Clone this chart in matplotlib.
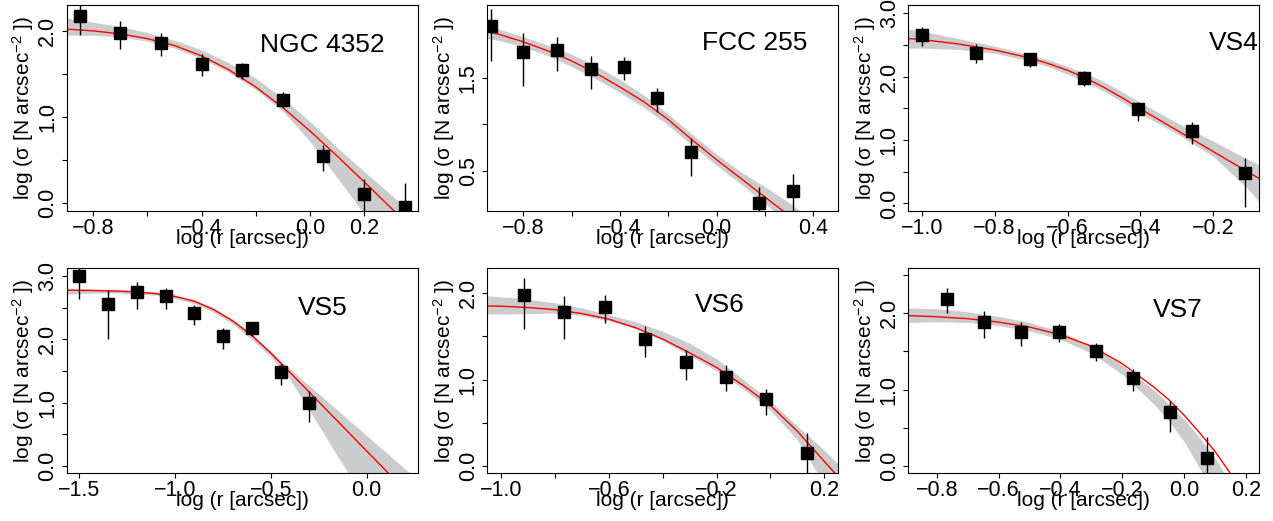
import matplotlib
matplotlib.use("Agg")
import matplotlib.pyplot as plt

plt.rcParams["font.family"] = ["Liberation Sans", "DejaVu Sans"]
plt.rcParams["mathtext.fontset"] = "custom"
plt.rcParams["mathtext.rm"] = "Liberation Sans"
plt.rcParams["mathtext.it"] = "Liberation Sans:italic"

# ---------------- NGC 4352 ----------------
ngc4352_r = [-0.85, -0.70, -0.55, -0.40, -0.25, -0.10, 0.05, 0.20, 0.35]
ngc4352_sig = [2.17, 1.98, 1.86, 1.62, 1.55, 1.20, 0.55, 0.11, -0.04]
ngc4352_elo = [0.22, 0.19, 0.15, 0.14, 0.11, 0.10, 0.18, 0.30, 0.50]
ngc4352_ehi = [0.18, 0.13, 0.11, 0.11, 0.08, 0.09, 0.13, 0.17, 0.28]
ngc4352_fit_r = [-0.898, -0.8, -0.7, -0.6, -0.5, -0.4, -0.3, -0.2, -0.1, 0.0, 0.1, 0.2, 0.3, 0.398]
ngc4352_fit = [2.02, 2.00, 1.965, 1.91, 1.83, 1.71, 1.55, 1.35, 1.11, 0.84, 0.55, 0.25, -0.055, -0.36]
ngc4352_fit_hi = [2.15, 2.10, 2.05, 1.98, 1.89, 1.78, 1.63, 1.45, 1.22, 0.95, 0.65, 0.37, 0.10, -0.17]
ngc4352_fit_lo = [1.95, 1.95, 1.93, 1.88, 1.80, 1.68, 1.52, 1.32, 1.07, 0.72, 0.30, -0.12, -0.55, -0.95]

# ---------------- FCC 255 ----------------
fcc255_r = [-0.935, -0.80, -0.66, -0.52, -0.385, -0.245, -0.105, 0.175, 0.315]
fcc255_sig = [2.05, 1.78, 1.80, 1.59, 1.62, 1.28, 0.70, 0.16, 0.29]
fcc255_elo = [0.37, 0.37, 0.23, 0.21, 0.14, 0.15, 0.25, 0.40, 0.40]
fcc255_ehi = [0.19, 0.20, 0.14, 0.14, 0.10, 0.11, 0.155, 0.17, 0.18]
fcc255_fit_r = [-0.949, -0.9, -0.8, -0.7, -0.6, -0.5, -0.4, -0.3, -0.2, -0.1, 0.0, 0.1, 0.2, 0.3, 0.4, 0.503]
fcc255_fit = [1.995, 1.965, 1.885, 1.79, 1.68, 1.55, 1.40, 1.24, 1.05, 0.83, 0.62, 0.42, 0.22, 0.02, -0.18, -0.39]
fcc255_fit_hi = [2.06, 2.02, 1.94, 1.85, 1.75, 1.63, 1.48, 1.31, 1.11, 0.89, 0.68, 0.49, 0.33, 0.16, -0.03, -0.30]
fcc255_fit_lo = [1.92, 1.90, 1.83, 1.74, 1.62, 1.49, 1.34, 1.18, 0.99, 0.77, 0.56, 0.36, 0.15, -0.07, -0.30, -0.55]

# ---------------- VS4 ----------------
vs4_r = [-1.0, -0.852, -0.704, -0.556, -0.408, -0.26, -0.112]
vs4_sig = [2.65, 2.38, 2.275, 1.985, 1.485, 1.147, 0.483]
vs4_elo = [0.17, 0.17, 0.13, 0.13, 0.18, 0.21, 0.54]
vs4_ehi = [0.14, 0.13, 0.095, 0.11, 0.12, 0.13, 0.24]
vs4_fit_r = [-1.037, -1.0, -0.9, -0.8, -0.7, -0.65, -0.6, -0.55, -0.5, -0.45, -0.4, -0.3, -0.2, -0.1, -0.072]
vs4_fit = [2.60, 2.585, 2.515, 2.42, 2.29, 2.20, 2.10, 1.975, 1.83, 1.665, 1.49, 1.153, 0.816, 0.479, 0.385]
vs4_fit_hi = [2.75, 2.72, 2.60, 2.48, 2.34, 2.26, 2.16, 2.05, 1.92, 1.76, 1.59, 1.27, 0.98, 0.68, 0.60]
vs4_fit_lo = [2.45, 2.45, 2.43, 2.37, 2.24, 2.15, 2.04, 1.91, 1.77, 1.60, 1.42, 1.10, 0.74, 0.20, 0.0]

# ---------------- VS5 ----------------
vs5_r = [-1.5, -1.35, -1.2, -1.05, -0.9, -0.75, -0.6, -0.45, -0.3]
vs5_sig = [3.0, 2.55, 2.74, 2.675, 2.42, 2.055, 2.17, 1.49, 1.0]
vs5_elo = [0.37, 0.55, 0.26, 0.20, 0.19, 0.21, 0.126, 0.21, 0.30]
vs5_ehi = [0.25, 0.23, 0.16, 0.13, 0.12, 0.13, 0.085, 0.12, 0.185]
vs5_fit_r = [-1.566, -1.5, -1.4, -1.3, -1.2, -1.1, -1.0, -0.9, -0.8, -0.7, -0.6, -0.5, -0.4, -0.3, -0.2, -0.1, 0.0, 0.1, 0.2, 0.27]
vs5_fit = [2.775, 2.772, 2.768, 2.76, 2.745, 2.72, 2.675, 2.60, 2.47, 2.29, 2.06, 1.78, 1.474, 1.165, 0.855, 0.545, 0.235, -0.075, -0.385, -0.60]
vs5_fit_hi = [2.81, 2.80, 2.79, 2.785, 2.77, 2.745, 2.70, 2.625, 2.50, 2.32, 2.09, 1.81, 1.53, 1.267, 1.004, 0.741, 0.478, 0.215, -0.048, -0.23]
vs5_fit_lo = [2.71, 2.72, 2.73, 2.73, 2.72, 2.695, 2.645, 2.565, 2.43, 2.24, 2.00, 1.72, 1.36, 0.88, 0.39, -0.10, -0.60, -1.10, -1.60, -1.95]

# ---------------- VS6 ----------------
vs6_r = [-0.915, -0.765, -0.615, -0.465, -0.315, -0.165, -0.015, 0.135]
vs6_sig = [1.98, 1.78, 1.84, 1.47, 1.206, 1.032, 0.774, 0.151]
vs6_elo = [0.39, 0.31, 0.19, 0.21, 0.21, 0.17, 0.19, 0.45]
vs6_ehi = [0.20, 0.19, 0.14, 0.15, 0.14, 0.14, 0.12, 0.225]
vs6_fit_r = [-1.051, -1.0, -0.9, -0.8, -0.7, -0.6, -0.5, -0.4, -0.3, -0.2, -0.1, 0.0, 0.1, 0.2, 0.252]
vs6_fit = [1.853, 1.85, 1.835, 1.81, 1.765, 1.70, 1.60, 1.47, 1.31, 1.14, 0.93, 0.70, 0.40, 0.05, -0.13]
vs6_fit_hi = [1.97, 1.96, 1.93, 1.89, 1.83, 1.75, 1.67, 1.56, 1.42, 1.24, 1.00, 0.75, 0.46, 0.18, 0.02]
vs6_fit_lo = [1.76, 1.76, 1.765, 1.77, 1.745, 1.68, 1.59, 1.45, 1.28, 1.10, 0.89, 0.64, 0.30, -0.22, -0.50]

# ---------------- VS7 ----------------
vs7_r = [-0.766, -0.646, -0.526, -0.406, -0.286, -0.166, -0.046, 0.074]
vs7_sig = [2.19, 1.89, 1.76, 1.76, 1.506, 1.157, 0.711, 0.10]
vs7_elo = [0.19, 0.21, 0.19, 0.14, 0.13, 0.175, 0.26, 0.45]
vs7_ehi = [0.14, 0.14, 0.13, 0.10, 0.11, 0.11, 0.14, 0.28]
vs7_fit_r = [-0.892, -0.8, -0.7, -0.6, -0.5, -0.4, -0.3, -0.2, -0.1, -0.05, 0.0, 0.05, 0.1, 0.15, 0.2, 0.243]
vs7_fit = [1.97, 1.955, 1.93, 1.885, 1.82, 1.72, 1.57, 1.34, 1.04, 0.87, 0.665, 0.435, 0.19, -0.10, -0.42, -0.72]
vs7_fit_hi = [2.07, 2.06, 2.02, 1.96, 1.88, 1.76, 1.58, 1.32, 1.00, 0.82, 0.61, 0.37, 0.10, -0.22, -0.58, -0.90]
vs7_fit_lo = [1.88, 1.89, 1.88, 1.84, 1.77, 1.66, 1.48, 1.20, 0.82, 0.59, 0.32, -0.03, -0.42, -0.85, -1.30, -1.60]

names = ["NGC 4352", "FCC 255", "VS4", "VS5", "VS6", "VS7"]

panels = [
    dict(r=ngc4352_r, s=ngc4352_sig, lo=ngc4352_elo, hi=ngc4352_ehi,
         fr=ngc4352_fit_r, f=ngc4352_fit, fhi=ngc4352_fit_hi, flo=ngc4352_fit_lo,
         xlim=(-0.898, 0.398), ylim=(-0.089, 2.30),
         xt=[-0.8, -0.6, -0.4, -0.2, 0.0, 0.2], xl=[-0.8, -0.4, 0.0, 0.2],
         yt=[0.0, 0.5, 1.0, 1.5, 2.0], yl=[0.0, 1.0, 2.0], lab=(0.044, 1.84)),
    dict(r=fcc255_r, s=fcc255_sig, lo=fcc255_elo, hi=fcc255_ehi,
         fr=fcc255_fit_r, f=fcc255_fit, fhi=fcc255_fit_hi, flo=fcc255_fit_lo,
         xlim=(-0.949, 0.503), ylim=(0.071, 2.28),
         xt=[-0.8, -0.6, -0.4, -0.2, 0.0, 0.2, 0.4], xl=[-0.8, -0.4, 0.0, 0.4],
         yt=[0.5, 1.0, 1.5], yl=[0.5, 1.5], lab=(0.157, 1.869)),
    dict(r=vs4_r, s=vs4_sig, lo=vs4_elo, hi=vs4_ehi,
         fr=vs4_fit_r, f=vs4_fit, fhi=vs4_fit_hi, flo=vs4_fit_lo,
         xlim=(-1.037, -0.074), ylim=(-0.12, 3.13),
         xt=[-1.0, -0.8, -0.6, -0.4, -0.2], xl=[-1.0, -0.8, -0.6, -0.4, -0.2],
         yt=[0.0, 0.5, 1.0, 1.5, 2.0, 2.5, 3.0], yl=[0.0, 1.0, 2.0, 3.0], lab=(-0.144, 2.53)),
    dict(r=vs5_r, s=vs5_sig, lo=vs5_elo, hi=vs5_ehi,
         fr=vs5_fit_r, f=vs5_fit, fhi=vs5_fit_hi, flo=vs5_fit_lo,
         xlim=(-1.566, 0.266), ylim=(-0.116, 3.12),
         xt=[-1.5, -1.0, -0.5, 0.0], xl=[-1.5, -1.0, -0.5, 0.0],
         yt=[0.0, 0.5, 1.0, 1.5, 2.0, 2.5, 3.0], yl=[0.0, 1.0, 2.0, 3.0], lab=(-0.228, 2.49)),
    dict(r=vs6_r, s=vs6_sig, lo=vs6_elo, hi=vs6_ehi,
         fr=vs6_fit_r, f=vs6_fit, fhi=vs6_fit_hi, flo=vs6_fit_lo,
         xlim=(-1.051, 0.252), ylim=(-0.088, 2.29),
         xt=[-1.0, -0.8, -0.6, -0.4, -0.2, 0.0, 0.2], xl=[-1.0, -0.6, -0.2, 0.2],
         yt=[0.0, 0.5, 1.0, 1.5, 2.0], yl=[0.0, 1.0, 2.0], lab=(-0.187, 1.864)),
    dict(r=vs7_r, s=vs7_sig, lo=vs7_elo, hi=vs7_ehi,
         fr=vs7_fit_r, f=vs7_fit, fhi=vs7_fit_hi, flo=vs7_fit_lo,
         xlim=(-0.892, 0.243), ylim=(-0.096, 2.59),
         xt=[-0.8, -0.6, -0.4, -0.2, 0.0, 0.2], xl=[-0.8, -0.6, -0.4, -0.2, 0.0, 0.2],
         yt=[0.0, 0.5, 1.0, 1.5, 2.0, 2.5], yl=[0.0, 1.0, 2.0], lab=(-0.019, 2.043)),
]


def fmt(v):
    return f"{v:.1f}".replace("-", "\u2212")


def labels_for(ticks, shown):
    return [fmt(t) if any(abs(t - s) < 1e-9 for s in shown) else "" for t in ticks]


W, H = 1273, 521
fig = plt.figure(figsize=(W / 100, H / 100), dpi=100)

col_left = [66.7, 487.3, 908.3]
row_top = [5.0, 268.3]
row_h = [206.0, 205.0]
ax_w = 351.0

for i, p in enumerate(panels):
    row, col = divmod(i, 3)
    left = col_left[col]
    top = row_top[row]
    h = row_h[row]
    ax = fig.add_axes([left / W, (H - top - h) / H, ax_w / W, h / H])

    ax.fill_between(p["fr"], p["flo"], p["fhi"], color="#cccccc", linewidth=0, zorder=1)
    ax.plot(p["fr"], p["f"], color="red", linewidth=1.0, zorder=2)
    ax.errorbar(p["r"], p["s"], yerr=[p["lo"], p["hi"]], fmt="none",
                ecolor="black", elinewidth=1.0, capsize=0, zorder=3)
    ax.plot(p["r"], p["s"], linestyle="none", marker="s", markersize=8.5,
            color="black", zorder=4)

    ax.set_xlim(*p["xlim"])
    ax.set_ylim(*p["ylim"])
    ax.set_xticks(p["xt"])
    ax.set_xticklabels(labels_for(p["xt"], p["xl"]))
    ax.set_yticks(p["yt"])
    ax.set_yticklabels(labels_for(p["yt"], p["yl"]), rotation=90, va="center", ha="right")

    ax.tick_params(axis="both", direction="out", length=3.6, width=0.8,
                   labelsize=15.5, colors="black")
    ax.tick_params(axis="x", pad=1.5)
    ax.tick_params(axis="y", pad=2.5)
    for sp in ax.spines.values():
        sp.set_linewidth(0.8)
        sp.set_color("black")

    ax.set_xlabel("log (r [arcsec])", fontsize=15)
    ax.xaxis.set_label_coords(0.5, -0.135)
    ax.xaxis.label.set_verticalalignment("center")
    ax.set_ylabel(r"log (σ [N arcsec$^{\mathregular{-2}}$ ])", fontsize=15)
    ax.yaxis.set_label_coords(-0.124, 0.5)
    ax.yaxis.label.set_verticalalignment("center")

    ax.text(p["lab"][0], p["lab"][1], names[i], fontsize=19,
            ha="center", va="center", zorder=5)

fig.savefig("out.png", dpi=100)
